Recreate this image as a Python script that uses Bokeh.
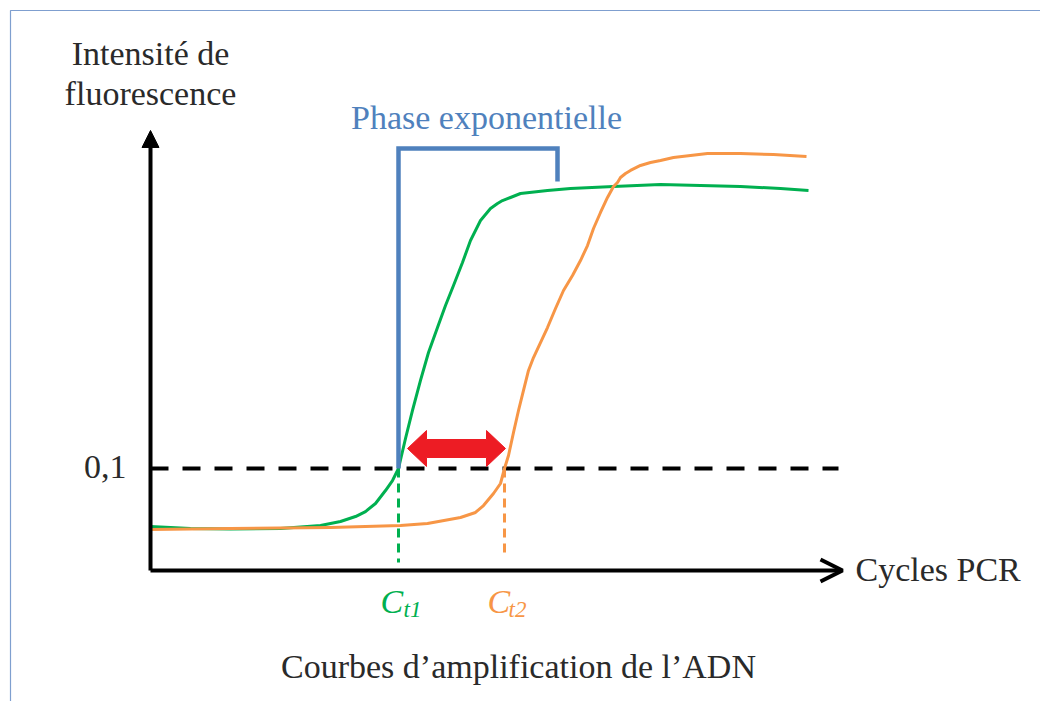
from bokeh.plotting import figure
from bokeh.models import Range1d, Label, Arrow, NormalHead, OpenHead
from bokeh.embed import file_html
from bokeh.resources import INLINE

# ---------------- data (cycles, fluorescence) ----------------
green_x = [0.0, 2.0, 4.0, 6.5, 8.5, 9.5, 10.25, 10.75, 11.25, 11.75, 12.1, 12.4, 12.75, 13.1,
           13.5, 13.9, 14.35, 14.75, 15.15, 15.6, 16.0, 16.25, 16.5, 16.75, 17.0, 17.35, 17.6,
           18.0, 18.5, 19.85, 21.0, 23.15, 25.5, 27.5, 29.5, 31.5, 32.9]
green_y = [0.0431, 0.0412, 0.0407, 0.0412, 0.0441, 0.0480, 0.0529, 0.0578, 0.0657, 0.0784,
           0.0882, 0.1000, 0.1294, 0.1569, 0.1863, 0.2137, 0.2382, 0.2598, 0.2794, 0.3020,
           0.3235, 0.3333, 0.3431, 0.3490, 0.3549, 0.3598, 0.3627, 0.3657, 0.3696, 0.3725,
           0.3745, 0.3765, 0.3784, 0.3775, 0.3765, 0.3745, 0.3725]

orange_x = [0.0, 4.0, 9.0, 12.5, 13.85, 15.5, 16.25, 16.65, 17.15, 17.5, 17.7, 17.9, 18.15,
            18.4, 18.65, 18.9, 19.15, 19.5, 19.85, 20.25, 20.65, 21.1, 21.5, 21.85, 22.15,
            22.5, 22.85, 23.15, 23.35, 23.5, 23.75, 24.0, 24.5, 25.0, 25.5, 26.15, 27.85,
            29.5, 31.15, 32.8]
orange_y = [0.0402, 0.0412, 0.0422, 0.0441, 0.0461, 0.0520, 0.0569, 0.0637, 0.0755, 0.0853,
            0.1000, 0.1127, 0.1353, 0.1569, 0.1765, 0.1961, 0.2088, 0.2235, 0.2382, 0.2569,
            0.2745, 0.2892, 0.3039, 0.3186, 0.3353, 0.3510, 0.3657, 0.3765, 0.3804, 0.3853,
            0.3892, 0.3922, 0.3971, 0.4000, 0.4020, 0.4049, 0.4088, 0.4088, 0.4078, 0.4059]

threshold = 0.1
threshold_label = "0,1"
ct1 = 12.4
ct2 = 17.7
phase_end = 20.35          # end of the exponential-phase bracket (cycles)
x_axis_end = 34.6
y_axis_end = 0.4314
threshold_end = 34.4

# ---------------- layout helpers ----------------
PX_X = 20.0      # px per cycle
PX_Y = 1020.0    # px per fluorescence unit
X0_PX, Y0_PX = 150.0, 570.0   # origin position in the picture
TXT_UP = 11.0    # baseline correction for text


def dx(px):
    return px / PX_X


def dy(px):
    return px / PX_Y


def px2x(px):
    return (px - X0_PX) / PX_X


def px2y(py):
    return (Y0_PX - py) / PX_Y


W, H = 1040, 701
p = figure(width=W, height=H, output_backend="svg", toolbar_location=None,
           x_axis_type=None, y_axis_type=None, min_border=0,
           x_range=Range1d(px2x(0), px2x(W)), y_range=Range1d(px2y(H), px2y(0)))
p.outline_line_color = None
p.grid.visible = False
p.background_fill_color = "white"
p.border_fill_color = "white"

GREEN = "#00B050"
ORANGE = "#F79646"
BLUE = "#4F81BD"
RED = "#ED1C24"
TEXT = "#2a2a2a"
FONT = "Liberation Serif"
FS = "34px"

# frame border (top and left visible)
p.line([px2x(10), px2x(10), px2x(1070)], [px2y(730), px2y(10), px2y(10)],
       line_color="#7f9fcf", line_width=1.2)

# threshold line
p.line([0, threshold_end], [threshold, threshold], line_color="black", line_width=4,
       line_dash="18 14")

# Ct dashed drops
p.line([ct1, ct1], [threshold, dy(8)], line_color=GREEN, line_width=3, line_dash="9 6")
p.line([ct2, ct2], [threshold, dy(15)], line_color=ORANGE, line_width=3, line_dash="9 6")

# curves
p.line(green_x, green_y, line_color=GREEN, line_width=3, line_join="round")
p.line(orange_x, orange_y, line_color=ORANGE, line_width=3, line_join="round")

# exponential phase bracket
top = y_axis_end - dy(18)
p.line([ct1, ct1, phase_end, phase_end], [threshold, top, top, top - dy(33)],
       line_color=BLUE, line_width=4.5, line_join="miter")

# red double arrow between Ct1 and Ct2
cy = threshold + dy(20)
lt = ct1 + dx(9)
rt = ct2 + dx(1)
hl = dx(19)
hh = dy(18)
sh = dy(9)
p.patch([lt, lt + hl, lt + hl, rt - hl, rt - hl, rt, rt - hl, rt - hl, lt + hl, lt + hl],
        [cy, cy + hh, cy + sh, cy + sh, cy + hh, cy, cy - hh, cy - sh, cy - sh, cy - hh],
        fill_color=RED, line_color=RED, line_width=1)

# axes with arrows
p.add_layout(Arrow(end=NormalHead(size=17, fill_color="black", line_color="black"),
                   x_start=0, y_start=0, x_end=0, y_end=y_axis_end,
                   line_width=4, line_color="black"))
p.add_layout(Arrow(end=OpenHead(size=22, line_width=4, line_color="black"),
                   x_start=0, y_start=0, x_end=x_axis_end, y_end=0,
                   line_width=4, line_color="black"))


def label(x, y, text, color=TEXT, align="left", size=FS, style="normal"):
    p.add_layout(Label(x=x, y=y + dy(TXT_UP), text=text, text_color=color, text_align=align,
                       text_baseline="alphabetic", text_font=FONT,
                       text_font_size=size, text_font_style=style))


label(0, px2y(64), "Intensité de", align="center")
label(0, px2y(104), "fluorescence", align="center")
label(px2x(486), px2y(128), "Phase exponentielle", color=BLUE, align="center")
label(-dx(24), threshold - dy(9), threshold_label, align="right")
label(x_axis_end + dx(13), -dy(10), "Cycles PCR")
label(ct1 - dx(18), -dy(42), "C", color=GREEN, style="italic")
label(ct1 + dx(5), -dy(50), "t1", color=GREEN, size="23px", style="italic")
label(ct2 - dx(17), -dy(42), "C", color=ORANGE, style="italic")
label(ct2 + dx(4), -dy(50), "t2", color=ORANGE, size="23px", style="italic")
label(px2x(518), px2y(677), "Courbes d\u2019amplification de l\u2019ADN", align="center")

open("out.html", "w").write(file_html(p, INLINE))
